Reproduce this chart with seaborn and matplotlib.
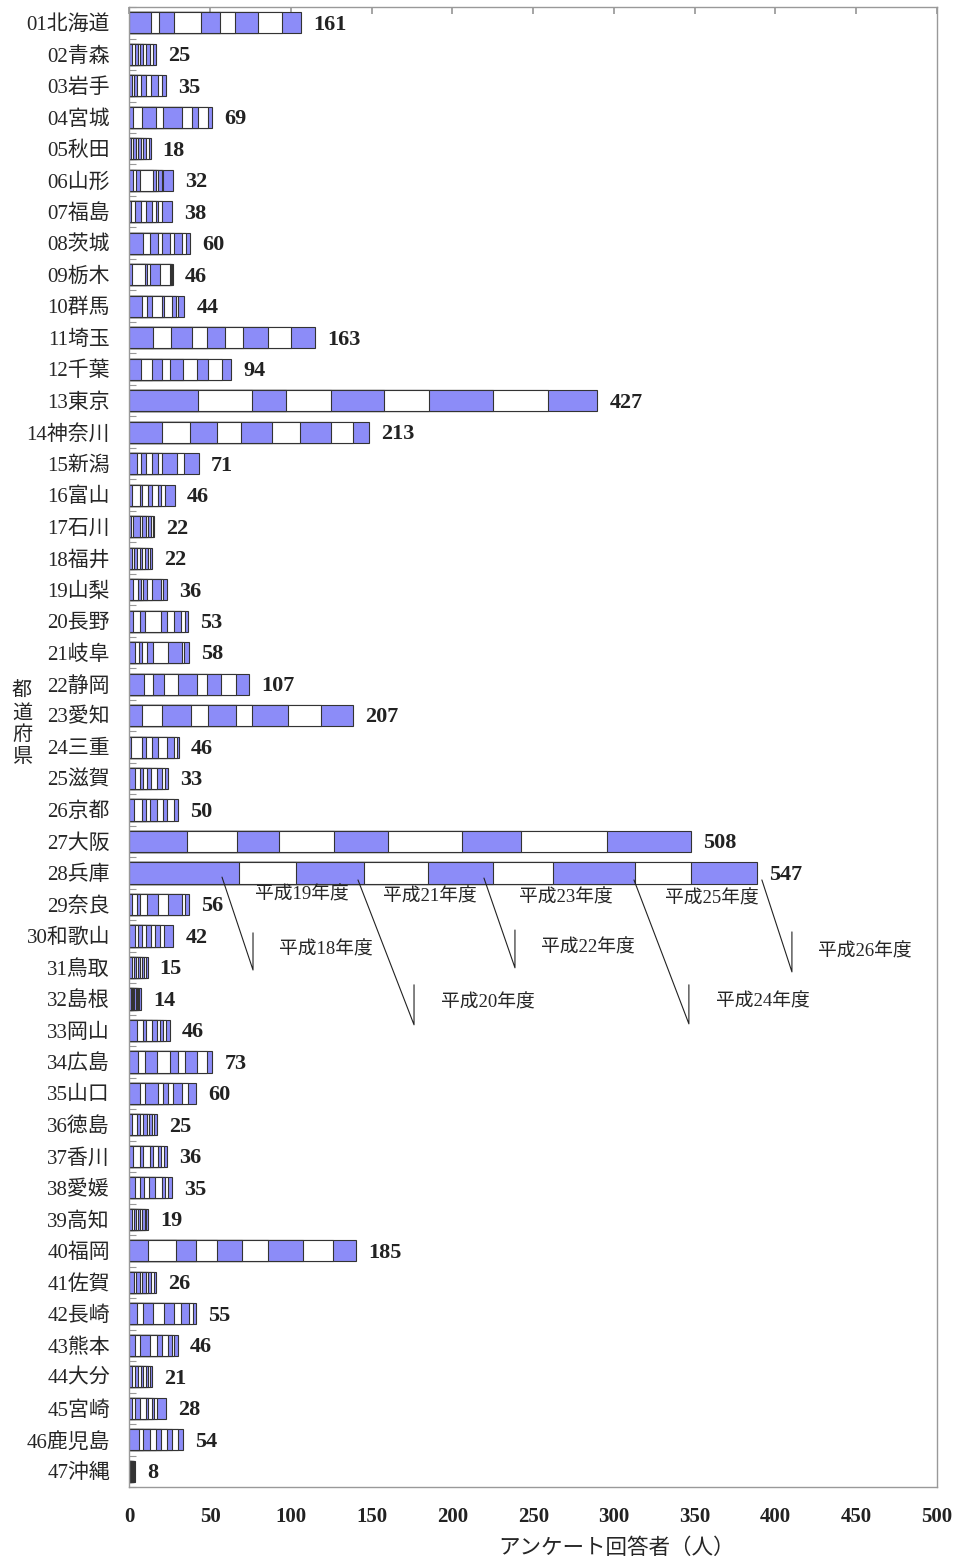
import numpy as np
import matplotlib
matplotlib.use("Agg")
import matplotlib.pyplot as plt
import seaborn as sns

# ======================================
# DATA
# ======================================
prefectures = [
    "01北海道", "02青森", "03岩手", "04宮城", "05秋田", "06山形", "07福島",
    "08茨城", "09栃木", "10群馬", "11埼玉", "12千葉", "13東京", "14神奈川",
    "15新潟", "16富山", "17石川", "18福井", "19山梨", "20長野", "21岐阜",
    "22静岡", "23愛知", "24三重", "25滋賀", "26京都", "27大阪", "28兵庫",
    "29奈良", "30和歌山", "31鳥取", "32島根", "33岡山", "34広島", "35山口",
    "36徳島", "37香川", "38愛媛", "39高知", "40福岡", "41佐賀", "42長崎",
    "43熊本", "44大分", "45宮崎", "46鹿児島", "47沖縄",
]

totals = [161, 25, 35, 69, 18, 32, 38, 60, 46, 44, 163, 94, 427, 213, 71, 46,
          22, 22, 36, 53, 58, 107, 207, 46, 33, 50, 508, 547, 56, 42, 15, 14,
          46, 73, 60, 25, 36, 35, 19, 185, 26, 55, 46, 21, 28, 54, 8]

years = ["平成18年度", "平成19年度", "平成20年度", "平成21年度", "平成22年度",
         "平成23年度", "平成24年度", "平成25年度", "平成26年度"]

# segment lengths as drawn against the x axis of the picture
h18 = [13.1, 1.3, 1.3, 2.4, 0.9, 2.4, 1.0, 8.6, 1.3, 7.5, 14.8, 7.0, 42.6, 19.9,
       4.9, 1.8, 0.9, 1.3, 2.4, 2.4, 3.4, 9.0, 7.7, 0.9, 3.4, 3.0, 35.6, 67.7,
       1.3, 3.4, 1.5, 1.0, 4.4, 5.5, 6.5, 1.8, 2.4, 3.4, 1.5, 11.7, 2.5, 4.4,
       3.4, 1.5, 1.8, 5.9, 0.4]
h19 = [5.4, 2.1, 1.7, 5.1, 1.3, 1.6, 2.4, 4.1, 8.3, 3.1, 11.0, 6.7, 33.1, 17.8,
       2.2, 4.7, 1.5, 1.7, 3.1, 4.1, 2.5, 5.8, 12.4, 7.0, 3.1, 4.5, 30.8, 35.2,
       3.1, 2.1, 1.2, 0.6, 4.2, 4.1, 3.1, 2.6, 4.1, 3.1, 1.0, 17.1, 1.5, 4.2,
       3.1, 2.0, 1.6, 2.7, 0.4]
h20 = [9.1, 1.7, 1.8, 8.7, 1.6, 2.5, 3.5, 5.2, 1.0, 3.1, 12.7, 6.6, 21.2, 16.5,
       2.9, 1.5, 4.1, 1.4, 1.6, 3.1, 2.1, 6.8, 18.0, 2.1, 2.1, 3.0, 26.5, 42.1,
       2.1, 2.5, 1.3, 0.8, 1.4, 7.2, 8.3, 2.1, 2.1, 2.7, 1.8, 12.2, 2.5, 6.2,
       6.2, 2.0, 3.1, 4.1, 0.3]
h21 = [16.5, 1.6, 2.3, 4.7, 1.7, 8.3, 3.3, 2.4, 2.1, 6.2, 9.3, 4.8, 27.9, 14.6,
       4.1, 3.7, 1.5, 2.1, 1.5, 9.9, 2.6, 8.2, 10.5, 3.7, 2.0, 2.5, 33.8, 40.1,
       4.1, 2.0, 1.2, 0.7, 4.1, 8.3, 3.0, 2.1, 4.1, 2.9, 1.2, 13.0, 1.5, 6.8,
       4.1, 1.5, 3.5, 3.5, 0.4]
h22 = [12.0, 1.9, 2.9, 11.4, 1.6, 1.6, 3.8, 4.8, 6.2, 1.7, 11.4, 7.8, 33.0, 19.4,
       3.8, 2.0, 2.0, 1.5, 2.0, 3.5, 4.2, 11.8, 17.3, 4.2, 2.7, 4.0, 33.2, 40.2,
       7.3, 3.3, 1.3, 0.8, 2.7, 5.1, 3.1, 2.0, 2.1, 3.7, 1.3, 15.9, 2.0, 6.2,
       3.1, 1.5, 1.7, 3.3, 0.4]
h23 = [9.2, 1.4, 3.3, 6.2, 1.5, 1.5, 2.4, 2.7, 6.4, 4.5, 10.9, 8.7, 27.9, 17.4,
       2.0, 4.2, 1.7, 1.6, 3.1, 4.8, 9.2, 6.2, 10.0, 5.1, 3.5, 3.5, 45.8, 36.8,
       6.1, 2.5, 1.2, 0.9, 2.1, 4.2, 3.1, 1.5, 3.1, 4.1, 1.2, 16.0, 1.6, 4.1,
       3.7, 1.5, 2.0, 3.5, 0.4]
h24 = [14.5, 2.7, 4.1, 4.1, 1.4, 2.0, 1.5, 4.9, 0.5, 2.5, 15.9, 7.2, 39.2, 19.2,
       9.3, 1.6, 1.6, 1.6, 5.8, 4.1, 8.3, 8.9, 22.2, 4.8, 3.1, 3.0, 36.5, 51.1,
       8.3, 3.1, 1.2, 0.7, 2.0, 7.2, 5.2, 1.6, 1.6, 2.1, 1.5, 21.7, 1.8, 5.0,
       2.5, 1.3, 1.7, 3.1, 0.4]
h25 = [14.9, 2.1, 2.9, 6.2, 2.1, 1.0, 2.0, 2.3, 0.5, 1.7, 14.1, 8.3, 34.5, 13.8,
       4.7, 2.5, 1.1, 1.5, 1.4, 2.5, 1.7, 9.2, 20.5, 1.4, 2.1, 4.0, 53.7, 34.8,
       2.1, 2.7, 1.2, 0.6, 1.5, 6.2, 4.1, 1.7, 2.1, 2.0, 1.0, 18.6, 1.5, 2.7,
       1.7, 1.2, 1.4, 4.1, 0.4]
h26 = [11.3, 1.6, 2.1, 2.6, 1.0, 5.8, 6.2, 2.5, 0.4, 3.7, 14.9, 5.8, 30.3, 10.0,
       9.1, 6.2, 1.0, 1.0, 2.1, 1.7, 3.0, 8.1, 19.8, 1.5, 2.0, 2.6, 52.0, 40.8,
       2.5, 5.6, 1.1, 1.0, 2.7, 3.5, 4.6, 1.4, 1.8, 2.5, 1.2, 13.9, 1.5, 1.4,
       2.1, 1.2, 5.6, 2.8, 0.3]

segments = [h18, h19, h20, h21, h22, h23, h24, h25, h26]
for s in segments:
    assert len(s) == len(prefectures)

# ======================================
# STYLE
# ======================================
sns.set_theme(style="white")
plt.rcParams["font.family"] = ["Liberation Serif", "Noto Sans CJK JP"]

BLUE = "#8c8cf8"
EDGE = "#333333"
FRAME = "#999999"
colors = [BLUE if i % 2 == 0 else "white" for i in range(len(years))]

# leader-line callouts for the year names (text pos, line points)
callouts = {
    "平成18年度": ((121.7, 29.44), [(57.3, 27.13), (76.5, 30.08), (76.5, 28.90)]),
    "平成19年度": ((106.8, 27.70), None),
    "平成20年度": ((221.9, 31.12), [(141.5, 27.22), (176.2, 31.82), (176.2, 30.55)]),
    "平成21年度": ((186.1, 27.76), None),
    "平成22年度": ((283.9, 29.38), [(219.5, 27.16), (238.7, 30.01), (238.7, 28.81)]),
    "平成23年度": ((270.3, 27.79), None),
    "平成24年度": ((392.2, 31.09), [(312.4, 27.22), (346.4, 31.79), (346.4, 30.55)]),
    "平成25年度": ((360.7, 27.82), None),
    "平成26年度": ((455.5, 29.50), [(391.6, 27.22), (410.2, 30.14), (410.2, 28.87)]),
}

# ======================================
# PLOT
# ======================================
cum = np.cumsum(np.array(segments), axis=0)

fig = plt.figure(figsize=(9.59, 15.66), dpi=100)
ax = fig.add_axes([0.1350, 0.0504, 0.8420, 0.9451])

# stacked bars: draw cumulative layers from the outermost inwards
for k in range(len(years) - 1, -1, -1):
    sns.barplot(x=cum[k], y=prefectures, orient="h", color=colors[k],
                saturation=1, edgecolor=EDGE, linewidth=0.8, width=0.67,
                errorbar=None, ax=ax)

for i, (t, end) in enumerate(zip(totals, cum[-1])):
    ax.text(end + 7.5, i + 0.06, str(t), ha="left", va="center", fontsize=16,
            fontweight="bold", color="#222222")

for name, (txt, pts) in callouts.items():
    if pts is not None:
        xs, ys = zip(*pts)
        ax.plot(xs, ys, color="#222222", lw=0.8, zorder=5)
    ax.text(txt[0], txt[1], name, ha="center", va="center", fontsize=13.5)

ax.set_xlim(0, 500)
ax.set_ylim(46.48, -0.48)
ax.set_xticks(range(0, 501, 50))
ax.set_yticks(np.arange(-0.5, len(prefectures), 1), minor=True)

ax.tick_params(axis="x", which="major", top=True, bottom=False,
               labeltop=False, labelbottom=True, direction="in", length=5,
               color=FRAME, pad=14, labelsize=15)
for lab in ax.get_xticklabels():
    lab.set_fontweight("bold")
    lab.set_color("#222222")
ax.tick_params(axis="y", which="major", length=0, pad=14, labelsize=15)
ax.tick_params(axis="y", which="minor", left=True, direction="in",
               length=5, color=FRAME, width=0.8)

ax.set_ylabel("")
ax.set_xlabel("アンケート回答者（人）", fontsize=15.5)
ax.xaxis.set_label_coords(0.603, -0.035)

for sp in ax.spines.values():
    sp.set_color(FRAME)
    sp.set_linewidth(1.0)

fig.text(22 / 959, 1 - 725 / 1566, "都\n道\n府\n県", ha="center", va="center",
         fontsize=14.5)

plt.savefig("out.png", dpi=100)
plt.close()
